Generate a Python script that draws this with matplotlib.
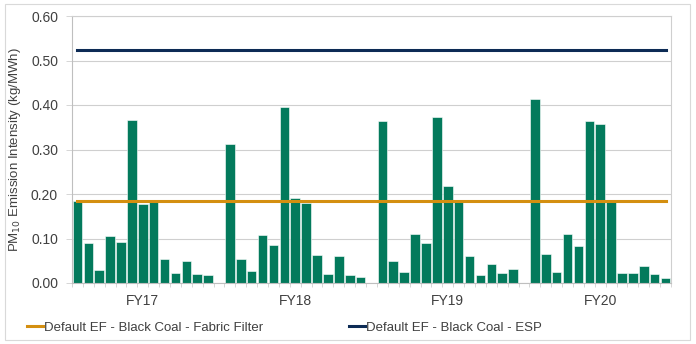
import matplotlib
matplotlib.use("Agg")
import matplotlib.pyplot as plt
import numpy as np
from matplotlib.patches import Rectangle

plt.rcParams['font.family'] = ['Liberation Sans', 'DejaVu Sans']

groups = ["FY17", "FY18", "FY19", "FY20"]
fy17 = [0.184, 0.091, 0.029, 0.106, 0.093, 0.367, 0.178, 0.182, 0.055, 0.022, 0.050, 0.020, 0.018]
fy18 = [0.312, 0.053, 0.026, 0.107, 0.085, 0.395, 0.191, 0.179, 0.064, 0.020, 0.061, 0.018, 0.014]
fy19 = [0.363, 0.049, 0.024, 0.109, 0.089, 0.374, 0.219, 0.182, 0.061, 0.018, 0.042, 0.023, 0.032]
fy20 = [0.414, 0.066, 0.025, 0.110, 0.083, 0.363, 0.357, 0.181, 0.023, 0.022, 0.038, 0.020, 0.011]
series = [fy17, fy18, fy19, fy20]
ef_fabric = 0.185
ef_esp = 0.524
legend_labels = ["Default EF - Black Coal - Fabric Filter", "Default EF - Black Coal - ESP"]

bar_color = "#037A5C"
orange = "#D48F10"
navy = "#0D2B55"
grid_c = "#CFCFCF"
text_c = "#404040"

fig = plt.figure(figsize=(6.96, 3.44), dpi=100)
fig.patches.append(Rectangle((5/696, 4/344), 685/696, 336/344, transform=fig.transFigure,
                             fill=False, edgecolor="#D9D9D9", linewidth=0.8))
ax = fig.add_axes([72/696, 1-283/344, 599/696, 267/344])

n = len(fy17)
slot = n + 1
xs_all, vals_all, centers = [], [], []
for gi, vals in enumerate(series):
    xs = np.arange(n) + gi*slot
    xs_all.extend(xs)
    vals_all.extend(vals)
    centers.append(gi*slot + (n-1)/2)
total = slot*len(series) - 1

ax.bar(xs_all, vals_all, width=0.88, color=bar_color, edgecolor="white", linewidth=0.4, zorder=2)
ax.plot([0, total-1], [ef_fabric, ef_fabric], color=orange, lw=2.2, zorder=3, label=legend_labels[0])
ax.plot([0, total-1], [ef_esp, ef_esp], color=navy, lw=2.2, zorder=3, label=legend_labels[1])

ax.set_xlim(-0.5, total-0.5)
ax.set_ylim(0, 0.6)
ax.set_yticks(np.arange(0, 0.61, 0.1))
ax.set_yticklabels([f"{v:.2f}" for v in np.arange(0, 0.61, 0.1)], fontsize=10, color=text_c)
ax.yaxis.grid(True, color=grid_c, lw=0.8, zorder=0)
ax.set_axisbelow(True)
ax.set_xticks(centers)
ax.set_xticklabels(groups, fontsize=10, color=text_c)
ax.set_xticks(np.arange(-0.5, total, 1), minor=True)
ax.tick_params(axis='x', which='major', length=0, pad=8)
ax.tick_params(axis='x', which='minor', length=3, color="#D0D0D0", width=0.6)
ax.tick_params(axis='y', length=4, color="#D0D0D0", width=0.6, pad=6)
for s in ["top", "right"]:
    ax.spines[s].set_color(grid_c)
    ax.spines[s].set_linewidth(0.8)
ax.spines["left"].set_color("#BFBFBF")
ax.spines["bottom"].set_color("#BFBFBF")
ax.spines["left"].set_linewidth(0.8)
ax.spines["bottom"].set_linewidth(0.8)

ax.set_ylabel("PM$_{10}$ Emission Intensity (kg/MWh)", fontsize=9.5, color=text_c, labelpad=6)

ax.legend(loc="upper left", bbox_to_anchor=(-0.095, -0.1), ncol=2, frameon=False, fontsize=9.5,
          handlelength=1.2, handletextpad=0.1, columnspacing=6.5, labelcolor=text_c)

fig.savefig("out.png", dpi=100)
